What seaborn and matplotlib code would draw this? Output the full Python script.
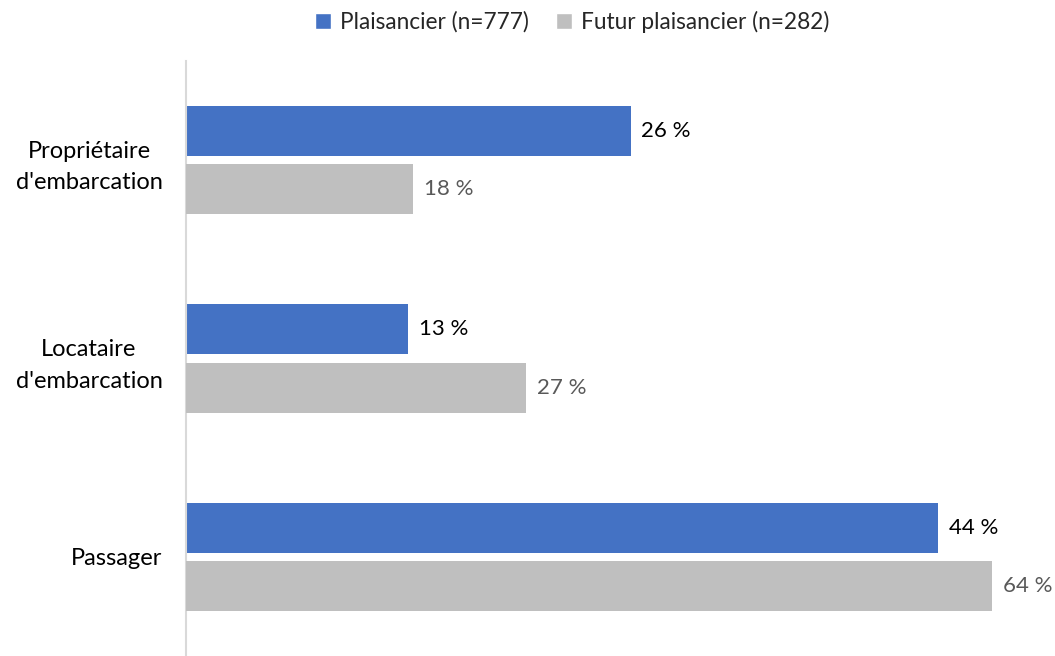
import matplotlib
matplotlib.use("Agg")
import matplotlib.pyplot as plt
import seaborn as sns
import pandas as pd
from matplotlib.patches import Patch

categories = ["Propriétaire\nd'embarcation", "Locataire\nd'embarcation", "Passager"]
series_names = ["Plaisancier (n=777)", "Futur plaisancier (n=282)"]
plaisancier = [26, 13, 44]
futur = [18, 27, 64]
colors = ["#4472C4", "#BFBFBF"]

sns.set_theme(style="white")
plt.rcParams["font.family"] = ["Lato", "DejaVu Sans"]

fig = plt.figure(figsize=(10.55, 6.56), dpi=100)
ax = fig.add_axes([186 / 1055, 0.0, (1046 - 186) / 1055, 1 - 61 / 656])
ax2 = ax.twiny()

df = pd.DataFrame({
    "cat": categories * 2,
    "val": plaisancier + futur,
    "serie": [series_names[0]] * 3 + [series_names[1]] * 3,
})

d1 = df.copy()
d1.loc[d1["serie"] == series_names[1], "val"] = 0
d2 = df.copy()
d2.loc[d2["serie"] == series_names[0], "val"] = 0

common = dict(y="cat", x="val", hue="serie", hue_order=series_names,
              palette=colors, order=categories, width=0.585, gap=0.138,
              legend=False, errorbar=None, saturation=1, linewidth=0)
sns.barplot(data=d1, ax=ax, **common)
sns.barplot(data=d2, ax=ax2, **common)

ax.set_xlim(0, 50.3)
ax2.set_xlim(0, 50 * 17.2 / 12.6)
ax.set_ylim(2.5, -0.5)
ax2.set_ylim(2.5, -0.5)

for c in ax.containers:
    for bar in c:
        w = bar.get_width()
        if w > 0:
            ax.text(w + 0.62, bar.get_y() + bar.get_height() / 2, f"{w:.0f} %",
                    va="center", ha="left", fontsize=16, color="#000000")
for c in ax2.containers:
    for bar in c:
        w = bar.get_width()
        if w > 0:
            ax2.text(w + 0.85, bar.get_y() + bar.get_height() / 2, f"{w:.0f} %",
                     va="center", ha="left", fontsize=16, color="#595959")

for a in (ax, ax2):
    a.set_xlabel("")
    a.set_ylabel("")
    a.set_xticks([])
    for s in a.spines.values():
        s.set_visible(False)
ax.spines["left"].set_visible(True)
ax.spines["left"].set_color("#D9D9D9")
ax.spines["left"].set_linewidth(1.5)
ax.tick_params(axis="y", length=0, pad=17, labelsize=17, labelcolor="#000000")
for lbl in ax.get_yticklabels():
    lbl.set_horizontalalignment("right")
    lbl.set_multialignment("center")
    lbl.set_linespacing(1.6)
ax2.tick_params(axis="y", length=0)

handles = [Patch(facecolor=colors[0]), Patch(facecolor=colors[1])]
fig.legend(handles, series_names, loc="center", bbox_to_anchor=(572 / 1055, 1 - 22 / 656),
           ncol=2, frameon=False, fontsize=16.3, handlelength=0.7, handleheight=0.7,
           handletextpad=0.4, columnspacing=1.2)

fig.savefig("out.png", dpi=100)
